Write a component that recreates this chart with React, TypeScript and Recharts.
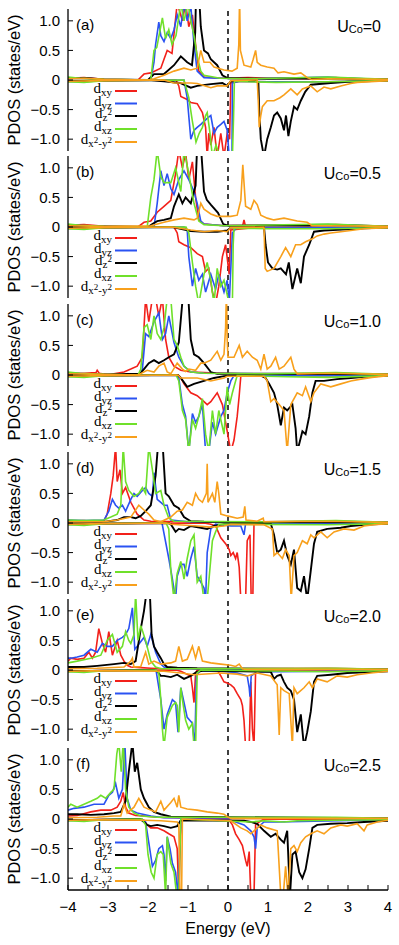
import React from "react";
import { LineChart, Line, XAxis, YAxis, ReferenceLine } from "recharts";

// energy (eV), PDOS (states/eV); spin-down values negative
const E_TICKS = [-4, -3.5, -3, -2.5, -2, -1.5, -1, -0.5, 0, 0.5, 1, 1.5, 2, 2.5, 3, 3.5, 4];
const P_TICKS = [-1, -0.5, 0, 0.5, 1];
const PANEL_LABELS = ["(a)", "(b)", "(c)", "(d)", "(e)", "(f)"];
const U_VALUES = ["0", "0.5", "1.0", "1.5", "2.0", "2.5"];
const COLORS = ["#f2201a", "#2a52f2", "#000000", "#6fe02a", "#f8a01c"];

// ---- (a) U=0
const aXyUp = [[-4,0.03],[-3.6,0.04],[-3.1,0.01],[-2.25,0],[-2.1,0.1],[-1.93,0.12],[-1.68,0.2],[-1.6,0.35],[-1.52,0.5],[-1.4,0.45],[-1.27,1.3],[-1.14,1.0],[-1.06,1.3],[-0.98,0.9],[-0.89,1.1],[-0.81,0.6],[-0.73,0.15],[-0.6,0.05],[-0.2,0.03],[0.5,0.04],[1.0,0.03],[2.0,0.02],[2.7,0.04],[3.2,0.02],[4,0.01]];
const aYzUp = [[-4,0.03],[-3.6,0.03],[-3.1,0.01],[-1.93,0],[-1.85,0.3],[-1.81,0.6],[-1.73,0.98],[-1.68,0.75],[-1.6,0.65],[-1.52,0.8],[-1.43,0.7],[-1.35,0.85],[-1.27,1.1],[-1.18,0.9],[-1.1,1.3],[-1.02,1.0],[-0.93,1.25],[-0.85,0.6],[-0.77,0.15],[-0.6,0.04],[-0.2,0.03],[0.5,0.02],[2.5,0.05],[2.9,0.03],[4,0.01]];
const aZ2Up = [[-4,0.03],[-3.5,0.03],[-3.1,0.01],[-2.0,0],[-1.85,0.1],[-1.6,0.1],[-1.35,0.25],[-1.18,0.4],[-1.02,0.3],[-0.9,0.25],[-0.82,0.8],[-0.8,1.4],[-0.72,1.4],[-0.68,0.9],[-0.6,0.5],[-0.5,0.45],[-0.43,0.35],[-0.27,0.25],[-0.14,0.08],[0,0.03],[1,0.02],[2.5,0.03],[4,0.01]];
const aXzUp = [[-4,0.05],[-3.7,0.03],[-3.1,0.01],[-1.93,0],[-1.85,0.5],[-1.78,0.55],[-1.64,1.05],[-1.56,0.7],[-1.48,0.85],[-1.4,0.6],[-1.3,0.75],[-1.18,1.3],[-1.1,1.0],[-1.0,1.3],[-0.93,1.0],[-0.85,0.75],[-0.77,0.4],[-0.68,0.15],[-0.6,0.08],[-0.2,0.03],[0.5,0.02],[2.5,0.05],[4,0.01]];
const aX2Up = [[-4,0.02],[-3.6,0.03],[-3.1,0.01],[-2.0,0],[-1.85,0.02],[-1.6,0.08],[-1.35,0.15],[-1.1,0.2],[-0.93,0.17],[-0.77,0.2],[-0.68,0.5],[-0.6,0.3],[-0.45,0.3],[-0.35,0.22],[-0.1,0.17],[0.1,0.15],[0.23,0.2],[0.27,0.6],[0.29,1.4],[0.31,0.5],[0.4,0.25],[0.57,0.22],[0.63,0.35],[0.69,0.5],[0.73,0.3],[0.82,0.25],[0.98,0.22],[1.15,0.2],[1.25,0.12],[1.4,0.14],[1.65,0.1],[1.82,0.12],[1.98,0.04],[2.1,0.01],[2.5,0.02],[4,0.01]];
const aXyDn = [[-4,-0.02],[-3.6,-0.03],[-3.1,-0.01],[-1.3,0],[-1.23,-0.1],[-1.18,-0.28],[-1.02,-0.33],[-0.93,-0.38],[-0.77,-0.4],[-0.64,-0.55],[-0.56,-0.8],[-0.52,-1.3],[-0.48,-0.9],[-0.43,-1.1],[-0.35,-0.8],[-0.27,-1.3],[-0.18,-0.9],[-0.1,-1.3],[-0.02,-0.9],[0.04,-1.0],[0.07,-0.05],[0.3,-0.02],[1,-0.03],[2.5,-0.03],[4,-0.01]];
const aYzDn = [[-4,-0.02],[-3.1,-0.01],[-1.1,0],[-1.02,-0.3],[-0.93,-1.0],[-0.85,-0.85],[-0.77,-0.8],[-0.68,-0.75],[-0.6,-0.7],[-0.52,-0.65],[-0.43,-0.6],[-0.35,-0.9],[-0.27,-0.8],[-0.18,-0.75],[-0.1,-0.7],[-0.02,-0.85],[0.03,-1.3],[0.1,-1.3],[0.11,-0.05],[0.3,-0.02],[1,-0.03],[2.5,-0.03],[4,-0.01]];
const aZ2Dn = [[-4,-0.02],[-3.1,-0.01],[-2.0,0],[-1.6,-0.02],[-1.2,-0.05],[-0.93,-0.13],[-0.77,-0.1],[-0.43,-0.07],[-0.14,-0.05],[-0.02,-0.1],[0.07,-0.02],[0.7,-0.01],[0.76,-0.05],[0.78,-0.5],[0.82,-1.0],[0.9,-1.3],[0.98,-1.0],[1.07,-0.8],[1.15,-0.6],[1.23,-0.55],[1.32,-0.65],[1.4,-0.85],[1.45,-0.6],[1.51,-0.95],[1.57,-0.7],[1.65,-0.45],[1.73,-0.5],[1.82,-0.35],[1.93,-0.2],[2.07,-0.08],[2.57,-0.05],[3.0,-0.03],[4,-0.01]];
const aXzDn = [[-4,-0.03],[-3.6,-0.04],[-3.1,-0.01],[-1.1,0],[-0.98,-0.3],[-0.89,-0.7],[-0.8,-1.05],[-0.72,-0.9],[-0.64,-0.8],[-0.56,-0.6],[-0.52,-0.55],[-0.45,-0.9],[-0.39,-1.3],[-0.3,-1.1],[-0.2,-1.3],[0.0,-1.3],[0.11,-1.3],[0.14,-0.6],[0.16,-0.02],[0.5,-0.03],[1.2,-0.04],[2.5,-0.03],[4,-0.01]];
const aX2Dn = [[-4,-0.02],[-3.1,-0.01],[-1.6,0],[-1.35,-0.05],[-0.93,-0.05],[-0.77,-0.06],[-0.43,-0.13],[-0.27,-0.1],[-0.02,-0.1],[0.07,-0.01],[0.73,0],[0.76,-0.4],[0.78,-0.8],[0.82,-0.6],[0.86,-0.45],[0.98,-0.35],[1.15,-0.35],[1.3,-0.3],[1.4,-0.25],[1.57,-0.15],[1.73,-0.25],[1.86,-0.15],[2.07,-0.1],[2.23,-0.2],[2.4,-0.12],[2.57,-0.15],[2.82,-0.1],[3.07,-0.06],[3.23,-0.04],[4,-0.01]];

// ---- (b) U=0.5
const bXyUp = [[-4,0.03],[-3.6,0.04],[-3.1,0.01],[-2.25,0],[-2.1,0.08],[-1.93,0.1],[-1.77,0.25],[-1.6,0.35],[-1.43,0.45],[-1.31,0.9],[-1.23,1.3],[-1.14,1.0],[-1.06,1.25],[-0.98,0.8],[-0.89,1.1],[-0.81,0.5],[-0.73,0.12],[-0.6,0.05],[-0.1,0.02],[0.37,0.03],[0.4,0.12],[0.43,0.03],[0.9,0.03],[2.0,0.02],[2.7,0.04],[4,0.01]];
const bYzUp = [[-4,0.03],[-3.1,0.01],[-1.85,0],[-1.77,0.4],[-1.68,0.95],[-1.6,0.7],[-1.52,0.9],[-1.43,0.65],[-1.35,0.55],[-1.23,0.8],[-1.1,0.95],[-0.98,0.8],[-0.85,0.6],[-0.77,0.4],[-0.68,0.1],[-0.6,0.05],[-0.1,0.02],[2.5,0.04],[4,0.01]];
const bZ2Up = [[-4,0.02],[-3.1,0.01],[-2.0,0],[-1.89,0.05],[-1.77,0.1],[-1.6,0.12],[-1.43,0.15],[-1.35,0.35],[-1.23,0.55],[-1.14,0.4],[-1.06,0.5],[-0.93,0.4],[-0.81,0.7],[-0.77,1.4],[-0.68,1.4],[-0.6,0.6],[-0.53,0.46],[-0.42,0.37],[-0.25,0.24],[-0.12,0.05],[0.03,0.02],[2.5,0.03],[4,0.01]];
const bXzUp = [[-4,0.05],[-3.7,0.03],[-3.1,0.01],[-2.02,0],[-1.93,0.5],[-1.85,0.8],[-1.77,1.3],[-1.68,0.85],[-1.6,0.75],[-1.43,0.75],[-1.31,1.0],[-1.18,0.6],[-1.1,1.3],[-0.98,0.9],[-0.85,0.4],[-0.73,0.1],[-0.6,0.04],[-0.1,0.02],[2.5,0.05],[4,0.01]];
const bX2Up = [[-4,0.02],[-3.1,0.01],[-1.93,0.02],[-1.6,0.08],[-1.35,0.12],[-1.1,0.15],[-0.85,0.12],[-0.77,0.15],[-0.68,0.4],[-0.6,0.3],[-0.43,0.22],[-0.27,0.18],[-0.1,0.18],[0.07,0.18],[0.23,0.2],[0.32,0.45],[0.37,1.05],[0.44,0.35],[0.57,0.3],[0.65,0.45],[0.73,0.38],[0.82,0.2],[0.98,0.15],[1.15,0.12],[1.4,0.15],[1.73,0.1],[1.98,0.08],[2.1,0.02],[2.5,0.02],[4,0.01]];
const bXyDn = [[-4,-0.02],[-3.1,-0.01],[-1.35,0],[-1.27,-0.1],[-1.23,-0.25],[-1.1,-0.3],[-0.93,-0.35],[-0.77,-0.45],[-0.64,-0.5],[-0.56,-0.75],[-0.48,-0.7],[-0.39,-1.1],[-0.31,-1.3],[-0.23,-1.0],[-0.14,-0.5],[-0.06,-0.3],[0.03,-0.8],[0.07,-0.05],[0.5,-0.02],[4,-0.01]];
const bYzDn = [[-4,-0.02],[-3.1,-0.01],[-1.1,0],[-1.02,-0.05],[-0.98,-0.5],[-0.89,-1.0],[-0.81,-0.7],[-0.73,-0.9],[-0.64,-0.8],[-0.56,-1.1],[-0.43,-0.8],[-0.31,-1.05],[-0.23,-0.8],[-0.1,-1.1],[-0.02,-0.9],[0.03,-1.3],[0.11,-0.1],[0.2,-0.02],[4,-0.01]];
const bZ2Dn = [[-4,-0.02],[-3.1,-0.01],[-1.4,0],[-1.27,-0.02],[-0.93,-0.07],[-0.6,-0.08],[-0.27,-0.08],[-0.02,-0.06],[0.07,-0.01],[0.9,0],[0.94,-0.3],[1.0,-0.6],[1.11,-0.7],[1.23,-0.72],[1.32,-0.7],[1.45,-0.8],[1.52,-0.6],[1.61,-1.05],[1.73,-0.7],[1.82,-0.95],[1.9,-0.5],[2.03,-0.3],[2.15,-0.08],[2.4,-0.06],[2.98,-0.04],[3.4,-0.02],[4,-0.01]];
const bXzDn = [[-4,-0.03],[-3.6,-0.04],[-3.1,-0.01],[-1.05,0],[-0.98,-0.1],[-0.89,-0.6],[-0.81,-1.0],[-0.73,-1.3],[-0.6,-0.8],[-0.52,-0.6],[-0.43,-0.9],[-0.35,-1.3],[-0.27,-0.7],[-0.18,-1.0],[-0.1,-0.9],[0.03,-1.3],[0.11,-1.3],[0.13,-0.3],[0.15,-0.02],[1.0,-0.03],[2.5,-0.03],[4,-0.01]];
const bX2Dn = [[-4,-0.02],[-3.1,-0.01],[-1.4,0],[-0.93,-0.05],[-0.6,-0.08],[-0.27,-0.06],[-0.02,-0.08],[0.07,-0.01],[0.9,0],[0.93,-0.7],[0.98,-0.75],[1.15,-0.7],[1.32,-0.5],[1.44,-0.35],[1.57,-0.5],[1.69,-0.3],[1.82,-0.3],[1.94,-0.25],[2.11,-0.2],[2.23,-0.15],[2.4,-0.12],[2.57,-0.1],[2.82,-0.08],[3.07,-0.06],[3.4,-0.03],[4,-0.01]];

// ---- (c) U=1.0
const cXyUp = [[-4,0.03],[-3.6,0.03],[-3.3,0.04],[-3.27,0.08],[-3.22,0.03],[-2.97,0],[-2.85,0.02],[-2.6,0.05],[-2.43,0.1],[-2.27,0.15],[-2.14,0.3],[-2.06,1.3],[-1.98,0.9],[-1.89,1.3],[-1.81,1.3],[-1.73,1.0],[-1.64,1.3],[-1.56,0.6],[-1.48,0.3],[-1.35,0.15],[-1.18,0.08],[-0.93,0.05],[-0.6,0.04],[-0.18,0.03],[0.32,0.02],[1,0.02],[2.7,0.03],[4,0.01]];
const cYzUp = [[-4,0.03],[-3.1,0.01],[-2.2,0],[-2.14,0.1],[-2.06,0.7],[-1.98,0.65],[-1.85,0.9],[-1.73,1.05],[-1.64,0.6],[-1.56,0.7],[-1.48,1.0],[-1.35,0.55],[-1.23,0.3],[-1.1,0.15],[-0.93,0.05],[-0.6,0.03],[1,0.02],[4,0.01]];
const cZ2Up = [[-4,0.02],[-3.1,0.01],[-2.2,0.02],[-2.1,0.1],[-1.98,0.2],[-1.85,0.25],[-1.73,0.2],[-1.6,0.25],[-1.48,0.3],[-1.35,0.35],[-1.23,0.55],[-1.12,1.4],[-1.0,1.4],[-0.93,0.6],[-0.85,0.35],[-0.73,0.3],[-0.6,0.2],[-0.43,0.05],[-0.27,0.02],[1,0.02],[4,0.01]];
const cXzUp = [[-4,0.05],[-3.7,0.03],[-3.1,0.01],[-2.25,0],[-2.18,0.1],[-2.1,0.8],[-2.02,0.85],[-1.93,0.6],[-1.85,1.0],[-1.77,0.7],[-1.68,0.6],[-1.6,0.8],[-1.52,1.3],[-1.43,1.3],[-1.35,0.6],[-1.27,0.5],[-1.18,0.3],[-1.1,0.15],[-0.93,0.05],[-0.6,0.03],[1,0.02],[2.7,0.04],[4,0.01]];
const cX2Up = [[-4,0.02],[-3.1,0.01],[-2.25,0],[-2.02,0.08],[-1.85,0.05],[-1.73,0.15],[-1.6,0.2],[-1.52,0.05],[-1.43,0.02],[-1.27,0.2],[-1.14,0.1],[-1.06,0.06],[-0.98,0.1],[-0.81,0.08],[-0.68,0.2],[-0.6,0.2],[-0.43,0.25],[-0.27,0.4],[-0.18,0.25],[-0.1,0.35],[-0.06,0.8],[-0.04,1.4],[-0.02,0.6],[0.0,0.3],[0.15,0.3],[0.28,0.5],[0.36,0.3],[0.48,0.4],[0.61,0.3],[0.73,0.25],[0.82,0.1],[0.9,0.35],[0.98,0.1],[1.07,0.15],[1.19,0.3],[1.28,0.1],[1.4,0.15],[1.57,0.3],[1.65,0.1],[1.73,0.02],[2.5,0.03],[4,0.01]];
const cXyDn = [[-4,-0.02],[-3.1,-0.01],[-1.25,0],[-1.18,-0.05],[-1.1,-0.15],[-0.93,-0.3],[-0.77,-0.35],[-0.6,-0.45],[-0.52,-0.5],[-0.43,-0.45],[-0.27,-0.3],[-0.14,-0.5],[-0.02,-0.95],[0.07,-1.3],[0.15,-1.1],[0.23,-0.7],[0.28,-0.35],[0.32,-0.02],[1,-0.01],[4,-0.01]];
const cYzDn = [[-4,-0.02],[-3.1,-0.01],[-1.3,0],[-1.23,-0.05],[-1.14,-0.5],[-1.06,-0.7],[-0.98,-1.3],[-0.89,-0.65],[-0.81,-0.8],[-0.73,-0.7],[-0.64,-0.5],[-0.56,-1.3],[-0.48,-1.3],[-0.39,-0.8],[-0.31,-1.0],[-0.18,-0.7],[-0.1,-0.6],[-0.02,-0.3],[0.07,-0.1],[0.15,-0.01],[4,-0.01]];
const cZ2Dn = [[-4,-0.02],[-3.1,-0.01],[-1.25,0],[-1.18,-0.05],[-1.02,-0.2],[-0.85,-0.15],[-0.6,-0.1],[-0.35,-0.05],[-0.1,-0.02],[0.07,-0.01],[0.82,-0.01],[0.94,-0.05],[1.03,-0.15],[1.15,-0.3],[1.23,-0.5],[1.32,-0.85],[1.4,-0.55],[1.48,-0.6],[1.61,-0.5],[1.69,-0.9],[1.73,-1.3],[1.86,-0.95],[1.94,-1.0],[2.03,-0.7],[2.11,-0.3],[2.19,-0.1],[2.4,-0.1],[2.73,-0.07],[3.07,-0.05],[3.4,-0.03],[4,-0.01]];
const cXzDn = [[-4,-0.03],[-3.6,-0.04],[-3.1,-0.01],[-1.3,0],[-1.23,-0.1],[-1.14,-0.6],[-1.06,-0.75],[-0.98,-1.3],[-0.89,-0.75],[-0.81,-0.9],[-0.73,-0.7],[-0.64,-0.4],[-0.56,-1.0],[-0.48,-1.3],[-0.39,-0.6],[-0.31,-1.0],[-0.23,-0.6],[-0.1,-1.0],[-0.02,-0.2],[0.04,-0.5],[0.11,-0.3],[0.19,-0.1],[0.23,-0.01],[1.5,-0.03],[2.5,-0.04],[4,-0.01]];
const cX2Dn = [[-4,-0.02],[-3.1,-0.01],[-1.25,0],[-1.18,-0.05],[-0.77,-0.05],[-0.43,-0.1],[-0.1,-0.05],[-0.02,-0.02],[0.9,-0.02],[0.98,-0.1],[1.07,-0.45],[1.15,-0.4],[1.28,-0.5],[1.4,-0.6],[1.48,-1.3],[1.57,-0.5],[1.73,-0.3],[1.86,-0.35],[1.94,-0.2],[2.07,-0.45],[2.15,-0.3],[2.32,-0.15],[2.57,-0.2],[2.82,-0.15],[3.07,-0.1],[3.32,-0.07],[3.6,-0.04],[4,-0.01]];

// ---- (d) U=1.5
const dXyUp = [[-4,0.03],[-3.6,0.04],[-3.3,0.02],[-3.1,0.03],[-3.02,0.15],[-2.93,0.5],[-2.87,0.8],[-2.81,1.3],[-2.77,0.7],[-2.7,0.9],[-2.64,0.5],[-2.56,0.6],[-2.43,0.35],[-2.27,0.15],[-2.1,0.05],[-1.93,0.03],[-1.0,0.02],[0.5,0.02],[2.7,0.03],[4,0.01]];
const dYzUp = [[-4,0.05],[-3.6,0.04],[-3.1,0.05],[-2.98,0.2],[-2.89,0.4],[-2.81,0.3],[-2.73,0.25],[-2.64,0.3],[-2.56,0.2],[-2.43,0.4],[-2.35,0.5],[-2.27,0.45],[-2.14,0.55],[-2.06,0.6],[-1.98,0.5],[-1.89,0.45],[-1.85,0.85],[-1.77,0.4],[-1.68,0.35],[-1.6,0.3],[-1.52,0.3],[-1.43,0.05],[-1.0,0.02],[4,0.01]];
const dZ2Up = [[-4,0.02],[-3.1,0.02],[-2.77,0.05],[-2.6,0.1],[-2.43,0.1],[-2.31,0.08],[-2.18,0.12],[-2.06,0.2],[-1.93,0.3],[-1.81,0.8],[-1.74,1.4],[-1.64,1.4],[-1.56,0.5],[-1.48,0.45],[-1.35,0.3],[-1.23,0.25],[-1.1,0.1],[-0.93,0.03],[-0.6,0.02],[4,0.01]];
const dXzUp = [[-4,0.05],[-3.6,0.04],[-3.1,0.05],[-2.93,0.1],[-2.77,0.15],[-2.68,0.3],[-2.62,1.3],[-2.56,0.7],[-2.48,0.55],[-2.35,0.45],[-2.23,0.5],[-2.14,0.6],[-2.06,0.5],[-1.98,1.3],[-1.89,0.9],[-1.81,0.5],[-1.68,0.55],[-1.6,0.3],[-1.48,0.08],[-1.35,0.03],[1,0.02],[2.7,0.04],[4,0.01]];
const dX2Up = [[-4,0.02],[-3.1,0.02],[-2.77,0.05],[-2.43,0.1],[-2.23,0.3],[-2.1,0.22],[-1.98,0.15],[-1.85,0.05],[-1.68,0.02],[-1.43,0.1],[-1.27,0.2],[-1.14,0.22],[-1.02,0.35],[-0.89,0.3],[-0.81,0.5],[-0.73,0.4],[-0.64,0.35],[-0.54,0.5],[-0.52,1.0],[-0.5,0.35],[-0.39,0.5],[-0.33,0.35],[-0.27,0.7],[-0.23,0.5],[-0.18,0.15],[-0.02,0.12],[0.23,0.08],[0.38,0.1],[0.42,0.28],[0.45,0.05],[0.73,0.03],[0.88,0.08],[0.9,0.02],[2.5,0.03],[4,0.01]];
const dXyDn = [[-4,-0.02],[-3.1,-0.01],[-0.6,0],[-0.43,-0.02],[-0.31,-0.05],[-0.18,-0.25],[-0.06,-0.35],[0.03,-0.45],[0.07,-0.55],[0.13,-0.5],[0.19,-0.6],[0.23,-0.5],[0.28,-0.75],[0.32,-1.3],[0.44,-1.3],[0.48,-0.3],[0.55,-0.2],[0.58,-1.3],[0.62,-1.3],[0.65,-0.01],[1,-0.01],[4,-0.01]];
const dYzDn = [[-4,-0.02],[-3.1,-0.01],[-1.65,0],[-1.48,-0.6],[-1.39,-0.95],[-1.31,-1.3],[-1.27,-0.9],[-1.18,-0.7],[-1.1,-0.7],[-1.02,-0.9],[-0.93,-0.6],[-0.85,-0.4],[-0.77,-0.9],[-0.68,-1.0],[-0.6,-1.1],[-0.56,-1.3],[-0.52,-0.5],[-0.43,-0.1],[-0.31,-0.02],[0.07,-0.05],[0.32,-0.05],[0.4,-0.2],[0.44,-0.01],[4,-0.01]];
const dZ2Dn = [[-4,-0.02],[-3.1,-0.01],[-1.5,0],[-1.43,-0.02],[-1.31,-0.15],[-1.23,-0.1],[-1.1,-0.12],[-0.93,-0.05],[-0.68,-0.08],[-0.52,-0.1],[-0.35,-0.05],[-0.1,-0.02],[1.07,-0.01],[1.15,-0.2],[1.23,-0.5],[1.32,-0.45],[1.4,-0.3],[1.48,-0.55],[1.57,-0.7],[1.65,-0.45],[1.73,-1.1],[1.82,-1.15],[1.9,-0.9],[1.98,-1.3],[2.07,-0.8],[2.15,-0.35],[2.23,-0.15],[2.48,-0.1],[2.82,-0.08],[3.07,-0.05],[3.4,-0.03],[4,-0.01]];
const dXzDn = [[-4,-0.03],[-3.6,-0.04],[-3.1,-0.01],[-1.55,0],[-1.48,-0.1],[-1.43,-0.8],[-1.35,-1.3],[-1.27,-0.85],[-1.18,-0.65],[-1.1,-0.95],[-1.02,-0.6],[-0.93,-0.3],[-0.85,-0.2],[-0.77,-1.0],[-0.68,-0.9],[-0.6,-1.3],[-0.52,-1.3],[-0.39,-0.3],[-0.31,-0.15],[-0.23,-0.02],[2.5,-0.03],[4,-0.01]];
const dX2Dn = [[-4,-0.02],[-3.1,-0.01],[-1.5,0],[-1.43,-0.02],[-0.77,-0.05],[-0.43,-0.07],[-0.1,-0.05],[0.07,-0.02],[0.9,-0.03],[1.11,-0.1],[1.15,-0.55],[1.23,-0.5],[1.36,-0.6],[1.44,-0.45],[1.53,-0.55],[1.58,-1.3],[1.65,-0.55],[1.73,-0.5],[1.86,-0.3],[1.98,-0.35],[2.07,-0.2],[2.15,-0.25],[2.32,-0.15],[2.48,-0.25],[2.65,-0.15],[2.9,-0.1],[3.15,-0.12],[3.4,-0.05],[3.65,-0.03],[4,-0.01]];

// ---- (e) U=2.0
const eXyUp = [[-4,0.15],[-3.93,0.2],[-3.77,0.18],[-3.6,0.2],[-3.48,0.3],[-3.39,0.2],[-3.31,0.3],[-3.23,0.7],[-3.14,0.45],[-3.06,0.3],[-2.98,0.65],[-2.89,0.25],[-2.77,0.5],[-2.68,0.25],[-2.6,0.15],[-2.52,0.08],[-2.43,0.05],[-2.18,0.04],[-1.93,0.03],[-1.6,0.02],[0,0.02],[2.5,0.03],[4,0.01]];
const eYzUp = [[-4,0.2],[-3.93,0.2],[-3.77,0.22],[-3.6,0.25],[-3.43,0.35],[-3.27,0.3],[-3.14,0.45],[-3.02,0.4],[-2.89,0.4],[-2.77,0.5],[-2.64,0.55],[-2.56,0.6],[-2.48,0.7],[-2.39,1.05],[-2.33,0.35],[-2.27,0.4],[-2.1,0.55],[-2.02,0.4],[-1.93,0.6],[-1.81,0.3],[-1.68,0.1],[-1.6,0.05],[-1.43,0.02],[4,0.01]];
const eZ2Up = [[-4,0.05],[-3.6,0.05],[-3.27,0.07],[-2.85,0.1],[-2.6,0.12],[-2.43,0.1],[-2.31,0.15],[-2.18,0.7],[-2.1,1.0],[-2.02,1.4],[-1.96,1.4],[-1.91,0.6],[-1.85,0.4],[-1.77,0.3],[-1.68,0.2],[-1.6,0.1],[-1.52,0.05],[-1.27,0.04],[-0.77,0.03],[4,0.01]];
const eXzUp = [[-4,0.12],[-3.77,0.15],[-3.43,0.2],[-3.18,0.25],[-3.02,0.5],[-2.89,0.6],[-2.77,0.3],[-2.64,0.4],[-2.56,0.65],[-2.48,0.5],[-2.43,0.45],[-2.35,0.6],[-2.31,1.3],[-2.25,0.5],[-2.18,0.75],[-2.06,0.5],[-1.93,0.15],[-1.81,0.05],[-1.68,0.02],[2.7,0.03],[4,0.01]];
const eX2Up = [[-4,0.02],[-3.27,0.03],[-2.6,0.05],[-2.43,0.15],[-2.39,0.2],[-2.35,0.05],[-2.18,0.06],[-2.06,0.3],[-1.98,0.1],[-1.85,0.15],[-1.68,0.1],[-1.43,0.12],[-1.31,0.15],[-1.23,0.4],[-1.14,0.15],[-1.02,0.18],[-0.89,0.4],[-0.81,0.2],[-0.73,0.4],[-0.64,0.15],[-0.43,0.12],[-0.18,0.1],[0.07,0.08],[0.19,0.06],[0.28,0.1],[0.36,0.02],[0.44,0.01],[4,0.01]];
const eXyDn = [[-4,-0.02],[-3.1,-0.01],[-1.3,0],[-1.18,-0.02],[-0.93,-0.1],[-0.89,-0.3],[-0.85,-0.55],[-0.81,-0.05],[-0.77,0],[-0.27,0],[-0.18,-0.1],[-0.1,-0.2],[-0.02,-0.22],[0.07,-0.25],[0.15,-0.3],[0.23,-0.4],[0.32,-0.5],[0.36,-0.6],[0.4,-0.85],[0.44,-1.3],[0.53,-1.3],[0.57,-0.2],[0.61,-1.0],[0.65,-1.3],[0.69,-0.01],[1,-0.01],[4,-0.01]];
const eYzDn = [[-4,-0.02],[-3.1,-0.01],[-1.8,0],[-1.68,-0.5],[-1.6,-1.0],[-1.52,-0.75],[-1.39,-0.5],[-1.31,-0.55],[-1.25,-1.05],[-1.18,-0.3],[-1.1,-0.55],[-1.02,-0.8],[-0.89,-0.9],[-0.83,-1.3],[-0.79,-0.1],[-0.7,-0.01],[-0.18,-0.02],[0.23,-0.05],[0.48,-0.1],[0.53,-0.3],[0.55,-0.45],[0.58,-0.1],[0.73,-0.03],[1.23,-0.03],[4,-0.01]];
const eZ2Dn = [[-4,-0.02],[-3.1,-0.01],[-1.85,0],[-1.77,-0.02],[-1.68,-0.1],[-1.6,-0.1],[-1.43,-0.12],[-1.27,-0.08],[-1.1,-0.15],[-0.93,-0.1],[-0.77,-0.03],[-0.6,-0.01],[1.07,-0.03],[1.15,-0.15],[1.23,-0.1],[1.32,-0.08],[1.4,-0.2],[1.48,-0.3],[1.57,-0.35],[1.65,-0.5],[1.73,-1.05],[1.82,-0.75],[1.9,-1.3],[1.98,-1.05],[2.07,-0.7],[2.15,-0.2],[2.23,-0.1],[2.57,-0.08],[2.98,-0.05],[3.4,-0.04],[4,-0.02]];
const eXzDn = [[-4,-0.03],[-3.6,-0.04],[-3.1,-0.01],[-1.8,0],[-1.73,-0.05],[-1.68,-0.5],[-1.64,-1.0],[-1.6,-1.3],[-1.52,-0.8],[-1.39,-0.6],[-1.31,-0.55],[-1.27,-0.6],[-1.23,-1.05],[-1.18,-0.3],[-1.14,-0.5],[-1.06,-0.85],[-0.98,-1.0],[-0.89,-0.9],[-0.85,-1.3],[-0.81,-1.3],[-0.77,-0.05],[-0.68,0],[2.5,-0.03],[4,-0.01]];
const eX2Dn = [[-4,-0.02],[-3.1,-0.01],[-1.6,-0.02],[-1.18,-0.05],[-0.85,-0.08],[-0.18,-0.05],[0.23,-0.07],[0.48,-0.1],[0.73,-0.05],[1.07,-0.1],[1.23,-0.25],[1.28,-1.1],[1.32,-0.3],[1.4,-0.35],[1.53,-0.4],[1.61,-1.3],[1.65,-0.3],[1.73,-0.4],[1.9,-0.3],[2.03,-0.2],[2.11,-0.3],[2.23,-0.15],[2.48,-0.2],[2.73,-0.1],[2.98,-0.12],[3.23,-0.08],[3.57,-0.05],[4,-0.02]];

// ---- (f) U=2.5
const fXyUp = [[-4,0.05],[-3.77,0.06],[-3.43,0.12],[-3.18,0.15],[-2.93,0.15],[-2.77,0.2],[-2.68,0.3],[-2.62,0.45],[-2.56,0.2],[-2.48,0.1],[-2.31,0.06],[-2.1,0.05],[-1.77,0.03],[-1.27,0.02],[-0.77,0.01],[4,0.01]];
const fYzUp = [[-4,0.15],[-3.85,0.18],[-3.6,0.2],[-3.35,0.25],[-3.1,0.25],[-2.98,0.4],[-2.89,0.45],[-2.81,0.6],[-2.73,0.35],[-2.64,0.5],[-2.58,1.3],[-2.52,0.35],[-2.43,0.15],[-2.27,0.1],[-1.93,0.05],[-1.6,0.02],[4,0.01]];
const fZ2Up = [[-4,0.08],[-3.77,0.08],[-3.43,0.07],[-3.1,0.08],[-2.85,0.1],[-2.68,0.12],[-2.56,0.3],[-2.48,0.8],[-2.39,1.3],[-2.33,0.8],[-2.27,0.95],[-2.18,0.5],[-2.1,0.35],[-1.98,0.2],[-1.85,0.12],[-1.68,0.08],[-1.43,0.04],[4,0.01]];
const fXzUp = [[-4,0.2],[-3.93,0.25],[-3.77,0.2],[-3.6,0.25],[-3.43,0.3],[-3.27,0.35],[-3.18,0.4],[-3.06,0.35],[-2.93,0.45],[-2.85,0.5],[-2.78,1.1],[-2.73,1.3],[-2.67,0.8],[-2.62,1.3],[-2.56,0.5],[-2.48,0.2],[-2.35,0.1],[-2.18,0.05],[-1.77,0.03],[2.7,0.03],[4,0.01]];
const fX2Up = [[-4,0.02],[-3.27,0.03],[-2.85,0.05],[-2.68,0.05],[-2.6,0.25],[-2.52,0.1],[-2.35,0.2],[-2.23,0.35],[-2.1,0.2],[-1.93,0.15],[-1.81,0.12],[-1.68,0.3],[-1.6,0.15],[-1.43,0.28],[-1.35,0.35],[-1.27,0.2],[-1.23,0.4],[-1.18,0.2],[-1.02,0.17],[-0.77,0.15],[-0.52,0.12],[-0.27,0.1],[-0.1,0.08],[-0.02,0.04],[0.07,0.01],[4,0.01]];
const fXyDn = [[-4,-0.02],[-3.1,-0.01],[-2.1,-0.02],[-2.02,-0.1],[-1.93,-0.15],[-1.77,-0.15],[-1.6,-0.2],[-1.48,-0.25],[-1.35,-0.3],[-1.27,-0.5],[-1.23,-1.3],[-1.18,-0.05],[-1.1,0],[0.03,-0.02],[0.11,-0.1],[0.19,-0.25],[0.28,-0.35],[0.36,-0.45],[0.44,-0.7],[0.48,-0.8],[0.53,-0.55],[0.57,-1.3],[0.65,-1.3],[0.69,-0.1],[0.78,-0.05],[0.9,0],[4,-0.01]];
const fYzDn = [[-4,-0.02],[-3.1,-0.01],[-2.15,0],[-2.06,-0.05],[-1.98,-0.4],[-1.89,-0.8],[-1.81,-0.7],[-1.73,-0.5],[-1.64,-0.45],[-1.6,-0.6],[-1.56,-1.05],[-1.52,-0.3],[-1.45,-0.5],[-1.39,-0.75],[-1.31,-0.9],[-1.25,-1.3],[-1.2,-0.3],[-1.14,0],[0.07,-0.02],[0.4,-0.1],[0.57,-0.2],[0.65,-0.3],[0.69,-0.5],[0.73,-0.15],[0.9,-0.05],[1.23,-0.05],[4,-0.01]];
const fZ2Dn = [[-4,-0.02],[-3.1,-0.01],[-2.2,0],[-2.1,-0.05],[-2.02,-0.1],[-1.93,-0.12],[-1.77,-0.1],[-1.6,-0.12],[-1.43,-0.15],[-1.27,-0.12],[-1.18,-0.02],[0.4,-0.03],[0.57,-0.05],[0.73,-0.08],[0.9,-0.2],[1.07,-0.3],[1.19,-0.25],[1.32,-0.35],[1.4,-0.4],[1.48,-0.2],[1.55,-1.3],[1.61,-0.6],[1.69,-0.55],[1.78,-0.9],[1.86,-1.0],[1.94,-0.85],[2.03,-0.5],[2.11,-0.15],[2.23,-0.1],[2.57,-0.08],[2.98,-0.07],[3.4,-0.05],[4,-0.03]];
const fXzDn = [[-4,-0.03],[-3.6,-0.04],[-3.1,-0.01],[-2.15,0],[-2.06,-0.1],[-2.0,-0.6],[-1.92,-0.9],[-1.85,-1.0],[-1.77,-0.6],[-1.68,-0.55],[-1.62,-0.6],[-1.56,-1.3],[-1.52,-0.3],[-1.43,-0.75],[-1.35,-0.9],[-1.28,-1.3],[-1.23,-1.3],[-1.18,0],[0.57,-0.05],[0.9,-0.03],[1.4,-0.05],[1.73,-0.03],[2.57,-0.02],[4,-0.01]];
const fX2Dn = [[-4,-0.02],[-3.1,-0.01],[-2.1,-0.02],[-1.68,-0.03],[-1.27,-0.05],[-1.23,-0.1],[-1.2,-1.3],[-1.16,-1.3],[-1.14,0],[0.07,-0.03],[0.32,-0.15],[0.48,-0.2],[0.57,-0.25],[0.65,-0.2],[0.82,-0.1],[0.98,-0.15],[1.23,-0.2],[1.32,-1.3],[1.38,-1.3],[1.44,-0.8],[1.5,-1.3],[1.57,-0.5],[1.65,-0.45],[1.73,-0.55],[1.82,-0.4],[1.94,-0.3],[2.07,-0.25],[2.23,-0.2],[2.4,-0.25],[2.57,-0.15],[2.82,-0.1],[2.98,-0.12],[3.23,-0.08],[3.4,-0.2],[3.48,-0.1],[3.73,-0.05],[4,-0.02]];

// order: dxy, dyz, dz2, dxz, dx2-y2
const SPIN_UP = [
  [aXyUp, aYzUp, aZ2Up, aXzUp, aX2Up],
  [bXyUp, bYzUp, bZ2Up, bXzUp, bX2Up],
  [cXyUp, cYzUp, cZ2Up, cXzUp, cX2Up],
  [dXyUp, dYzUp, dZ2Up, dXzUp, dX2Up],
  [eXyUp, eYzUp, eZ2Up, eXzUp, eX2Up],
  [fXyUp, fYzUp, fZ2Up, fXzUp, fX2Up],
];
const SPIN_DOWN = [
  [aXyDn, aYzDn, aZ2Dn, aXzDn, aX2Dn],
  [bXyDn, bYzDn, bZ2Dn, bXzDn, bX2Dn],
  [cXyDn, cYzDn, cZ2Dn, cXzDn, cX2Dn],
  [dXyDn, dYzDn, dZ2Dn, dXzDn, dX2Dn],
  [eXyDn, eYzDn, eZ2Dn, eXzDn, eX2Dn],
  [fXyDn, fYzDn, fZ2Dn, fXzDn, fX2Dn],
];

const SANS = "'Liberation Sans', Arial, Helvetica, sans-serif";
const SERIF = "'Liberation Serif', 'Times New Roman', serif";
const PLOT_TOPS = [9, 156, 304, 452, 599, 748];
const PLOT_H = 142;
const PAD = 3;

const pts = (arr: number[][]) => arr.map(([e, v]) => ({ e, v }));
const fmtE = (v: number) => (Number.isInteger(v) ? (v < 0 ? "\u2212" + Math.abs(v) : String(v)) : "");
const fmtP = (v: number) => (v === 0 ? "0" : (v < 0 ? "\u2212" : "") + Math.abs(v).toFixed(1));
const blank = () => "";

function Panel({ idx }: { idx: number }) {
  const last = idx === PLOT_TOPS.length - 1;
  const axisLine = { stroke: "#000", strokeWidth: 1.3 };
  const tickLine = { stroke: "#000", strokeWidth: 1 };
  const tick = { fill: "#000", fontSize: 15, fontFamily: SANS };
  const lines: React.ReactNode[] = [];
  COLORS.forEach((c, i) => {
    [SPIN_UP[idx][i], SPIN_DOWN[idx][i]].forEach((d, s) => {
      lines.push(
        <Line
          key={`${i}-${s}`}
          xAxisId="b"
          yAxisId="l"
          data={pts(d)}
          dataKey="v"
          type="linear"
          stroke={c}
          strokeWidth={i === 2 ? 1.9 : 1.6}
          dot={false}
          activeDot={false}
          isAnimationActive={false}
        />
      );
    });
  });
  return (
    <div style={{ position: "absolute", left: 0, top: PLOT_TOPS[idx] - PAD }}>
      <LineChart
        width={399}
        height={PLOT_H + 2 * PAD + (last ? 52 : 0)}
        margin={{ top: PAD, right: 11, bottom: PAD, left: 0 }}
      >
        <XAxis xAxisId="b" dataKey="e" type="number" domain={[-4, 4]} allowDataOverflow ticks={E_TICKS} interval={0}
          height={last ? 52 : 0} tickSize={-5} tickMargin={16} tickFormatter={last ? fmtE : blank}
          axisLine={axisLine} tickLine={tickLine} tick={tick} />
        <XAxis xAxisId="t" orientation="top" dataKey="e" type="number" domain={[-4, 4]} allowDataOverflow ticks={E_TICKS} interval={0}
          height={0} tickSize={-5} tickFormatter={blank} axisLine={axisLine} tickLine={tickLine} tick={tick} />
        <YAxis yAxisId="l" type="number" domain={[-1.2, 1.2]} allowDataOverflow ticks={P_TICKS} interval={0}
          width={68} tickSize={-5} tickMargin={13} tickFormatter={fmtP} axisLine={axisLine} tickLine={tickLine} tick={tick} />
        <YAxis yAxisId="r" orientation="right" type="number" domain={[-1.2, 1.2]} allowDataOverflow ticks={P_TICKS} interval={0}
          width={0} tickSize={-5} tickFormatter={blank} axisLine={axisLine} tickLine={tickLine} tick={tick} />
        <ReferenceLine xAxisId="b" yAxisId="l" x={0} stroke="#000" strokeWidth={1.5} strokeDasharray="5 4" />
        {lines}
      </LineChart>
    </div>
  );
}

function Legend({ top }: { top: number }) {
  const rows = [82, 94.5, 107, 120, 133];
  const sub = { fontSize: 11 };
  const labels = [
    <>d<tspan {...sub} dy={3}>xy</tspan></>,
    <>d<tspan {...sub} dy={3}>yz</tspan></>,
    <>d<tspan {...sub} dy={3}>z</tspan><tspan fontSize={9} dy={-6}>2</tspan></>,
    <>d<tspan {...sub} dy={3}>xz</tspan></>,
    <>d<tspan {...sub} dy={3}>x</tspan><tspan fontSize={9} dy={-4}>2</tspan><tspan {...sub} dy={4}>-y</tspan><tspan fontSize={9} dy={-4}>2</tspan></>,
  ];
  return (
    <g>
      {rows.map((r, i) => (
        <g key={i}>
          <text x={112} y={top + r + 2} textAnchor="end" fontFamily={SERIF} fontSize={15} fill="#000">
            {labels[i]}
          </text>
          <line x1={115} x2={137} y1={top + r} y2={top + r} stroke={COLORS[i]} strokeWidth={2} />
        </g>
      ))}
    </g>
  );
}

export default function App() {
  return (
    <div style={{ position: "relative", width: 399, height: 945, background: "#fff", fontFamily: SANS }}>
      <style>{`body{margin:0}`}</style>
      {PLOT_TOPS.map((_, i) => (
        <Panel key={i} idx={i} />
      ))}
      <svg width={399} height={945} style={{ position: "absolute", left: 0, top: 0, pointerEvents: "none" }}>
        {PLOT_TOPS.map((t, i) => (
          <g key={i}>
            <text x={20} y={t + PLOT_H / 2} transform={`rotate(-90 20 ${t + PLOT_H / 2})`} textAnchor="middle"
              fontFamily={SANS} fontSize={16.5} fill="#000">PDOS (states/eV)</text>
            <text x={76} y={t + 21} fontFamily={SANS} fontSize={15} fill="#000">{PANEL_LABELS[i]}</text>
            <text x={381} y={t + 23} textAnchor="end" fontFamily={SANS} fontSize={16} fill="#000">
              U<tspan fontSize={11} dy={1}>Co</tspan><tspan dy={-1}>={U_VALUES[i]}</tspan>
            </text>
            <Legend top={t} />
          </g>
        ))}
        <text x={228} y={934} textAnchor="middle" fontFamily={SANS} fontSize={16} fill="#000">Energy (eV)</text>
      </svg>
    </div>
  );
}
